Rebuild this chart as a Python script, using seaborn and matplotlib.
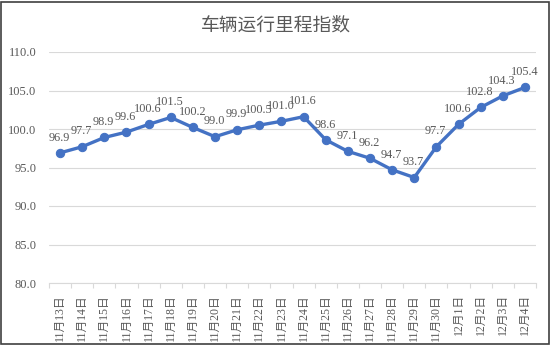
import matplotlib
matplotlib.use("Agg")
import matplotlib.pyplot as plt
import seaborn as sns
import pandas as pd
from matplotlib.patches import Rectangle
from matplotlib.ticker import FixedLocator

dates = ["11月13日", "11月14日", "11月15日", "11月16日", "11月17日", "11月18日",
         "11月19日", "11月20日", "11月21日", "11月22日", "11月23日", "11月24日",
         "11月25日", "11月26日", "11月27日", "11月28日", "11月29日", "11月30日",
         "12月1日", "12月2日", "12月3日", "12月4日"]
values = [96.9, 97.7, 98.9, 99.6, 100.6, 101.5, 100.2, 99.0, 99.9, 100.5,
          101.0, 101.6, 98.6, 97.1, 96.2, 94.7, 93.7, 97.7, 100.6, 102.8,
          104.3, 105.4]
title = "车辆运行里程指数"
yticks = [80.0, 85.0, 90.0, 95.0, 100.0, 105.0, 110.0]

sns.set_theme(style="white")
plt.rcParams['font.family'] = ['Liberation Serif', 'Noto Sans CJK SC', 'DejaVu Sans']

df = pd.DataFrame({"date": dates, "value": values})

fig = plt.figure(figsize=(5.52, 3.46), dpi=100)
ax = fig.add_axes([49/552, 1-283/346, (536-49)/552, (283-52)/346])

line_color = "#4472C4"
txt_color = "#595959"
sns.lineplot(data=df, x="date", y="value", ax=ax, color=line_color,
             linewidth=2.4, marker="o", markersize=6, markeredgecolor=line_color,
             markerfacecolor=line_color, sort=False)

n = len(dates)
ax.set_xlim(-0.5, n - 0.5)
ax.set_ylim(80, 110)
ax.set_yticks(yticks)
ax.set_yticklabels([f"{v:.1f}" for v in yticks])
ax.yaxis.grid(True, color="#D9D9D9", linewidth=0.8)
ax.set_axisbelow(True)
ax.set_xlabel("")
ax.set_ylabel("")

for s in ["left", "right", "top"]:
    ax.spines[s].set_visible(False)
ax.spines["bottom"].set_color("#D9D9D9")
ax.spines["bottom"].set_linewidth(0.8)

ax.set_xticks(range(n))
ax.set_xticklabels(dates, rotation=90, fontsize=8.5, color=txt_color)
ax.xaxis.set_minor_locator(FixedLocator([i - 0.5 for i in range(n + 1)]))
ax.tick_params(axis="x", which="major", length=0, pad=8)
ax.tick_params(axis="x", which="minor", length=3.5, color="#D9D9D9", width=0.8, bottom=True)
ax.tick_params(axis="y", length=0, pad=9, labelsize=9, labelcolor=txt_color)

for i, v in enumerate(values):
    ax.annotate(f"{v:.1f}", (i, v), xytext=(-0.5, 11), textcoords="offset points",
                ha="center", va="center", fontsize=8.8, color=txt_color)

fig.text(0.5, 1 - 25/346, title, ha="center", va="center", fontsize=13.5,
         color=txt_color, family=['Noto Sans CJK SC', 'DejaVu Sans'])

fig.patches.append(Rectangle((0.5/552, 2/346), 548.5/552, 342/346,
                             transform=fig.transFigure, fill=False,
                             edgecolor="#404040", linewidth=1.2))

fig.savefig("out.png", dpi=100)
